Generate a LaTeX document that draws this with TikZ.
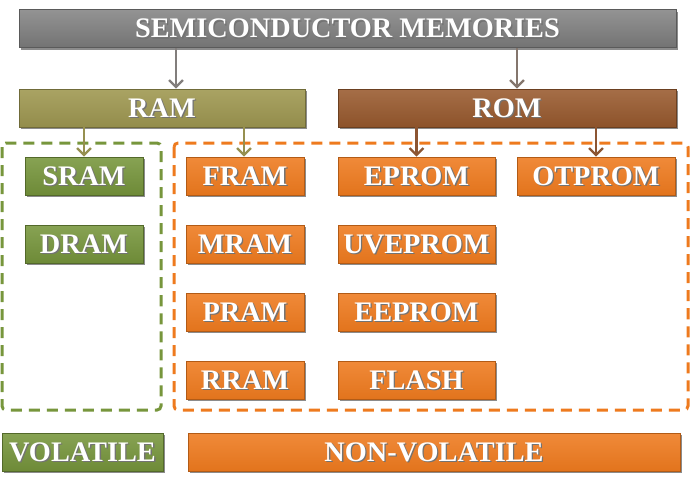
\documentclass[tikz,border=0pt]{standalone}
\usepackage{fontspec}
\setmainfont{Liberation Serif}
\usetikzlibrary{shadows,arrows.meta}
\definecolor{cgray}{RGB}{128,128,128}
\definecolor{colive}{RGB}{160,153,82}
\definecolor{cbrown}{RGB}{153,90,46}
\definecolor{cgreen}{RGB}{119,150,60}
\definecolor{corange}{RGB}{238,122,30}
\definecolor{agray}{RGB}{130,126,124}
\definecolor{aolive}{RGB}{150,144,80}
\definecolor{abrown}{RGB}{140,85,50}
\newcommand{\sht}[1]{\leavevmode\rlap{\kern1.3pt\raisebox{-1.3pt}{\color{black!55}#1}}#1}
\tikzset{
  box/.style={rectangle, inner sep=0pt, minimum height=38pt, text=white,
    font=\fontsize{28.3}{28}\selectfont\bfseries, text height=18.7pt, text depth=0pt,
    drop shadow={shadow xshift=1.5pt, shadow yshift=-2pt, opacity=0.45, fill=black}},
  graybox/.style={box, top color=cgray!85!white, bottom color=cgray!90!black, draw=cgray!70!black, line width=0.6pt},
  olivebox/.style={box, top color=colive!90!white, bottom color=colive!92!black, draw=colive!70!black, line width=0.6pt},
  brownbox/.style={box, top color=cbrown!88!white, bottom color=cbrown!92!black, draw=cbrown!70!black, line width=0.6pt},
  greenbox/.style={box, top color=cgreen!88!white, bottom color=cgreen!92!black, draw=cgreen!70!black, line width=0.6pt},
  orangebox/.style={box, top color=corange!88!white, bottom color=corange!95!black, draw=corange!75!black, line width=0.6pt},
  arr/.style={line width=2.3pt, -{Straight Barb[length=7pt,width=14pt]}},
  dashbox/.style={line width=3pt, dash pattern=on 11pt off 7pt, rounded corners=4pt}
}
\begin{document}
\begin{tikzpicture}[x=1pt,y=-1pt]
\useasboundingbox[fill=white] (0,0) rectangle (693,479);
% dashed groups
\draw[dashbox, draw=cgreen] (2,143) rectangle (161,410);
\draw[dashbox, draw=corange] (174,143) rectangle (688,410);
% top levels
\node[graybox, minimum width=657pt] (top) at (347.5,28.5) {\sht{SEMICONDUCTOR MEMORIES}};
\node[olivebox, minimum width=286pt] (ram) at (162,108) {\sht{RAM}};
\node[brownbox, minimum width=338pt] (rom) at (507,108) {\sht{ROM}};
% volatile
\node[greenbox, minimum width=118pt] (sram) at (84,176) {\sht{SRAM}};
\node[greenbox, minimum width=118pt] (dram) at (84,244) {\sht{DRAM}};
% non-volatile RAM
\node[orangebox, minimum width=118pt] (fram) at (245,176) {\sht{FRAM}};
\node[orangebox, minimum width=118pt] (mram) at (245,244) {\sht{MRAM}};
\node[orangebox, minimum width=118pt] (pram) at (245,312) {\sht{PRAM}};
\node[orangebox, minimum width=118pt] (rram) at (245,380) {\sht{RRAM}};
% ROM family
\node[orangebox, minimum width=157pt] (eprom) at (416.5,176) {\sht{EPROM}};
\node[orangebox, minimum width=157pt] (uveprom) at (416.5,244) {\sht{UVEPROM}};
\node[orangebox, minimum width=157pt] (eeprom) at (416.5,312) {\sht{EEPROM}};
\node[orangebox, minimum width=157pt] (flash) at (416.5,380) {\sht{FLASH}};
\node[orangebox, minimum width=158pt] (otprom) at (596,176) {\sht{OTPROM}};
% bottom labels
\node[greenbox, minimum width=161pt] (vol) at (82.5,452) {\sht{VOLATILE}};
\node[orangebox, minimum width=492pt] (nvol) at (434,452) {\sht{NON-VOLATILE}};
% arrows
\coordinate (aR) at (176,0);
\coordinate (aO) at (517,0);
\coordinate (aF) at (244,0);
\draw[arr, draw=agray] (top.south -| aR) -- (ram.north -| aR);
\draw[arr, draw=agray!80!abrown] (top.south -| aO) -- (rom.north -| aO);
\draw[arr, draw=aolive] (ram.south -| sram.north) -- (sram.north);
\draw[arr, draw=aolive] (ram.south -| aF) -- (fram.north -| aF);
\draw[arr, draw=abrown] (rom.south -| eprom.north) -- (eprom.north);
\draw[arr, draw=abrown] (rom.south -| otprom.north) -- (otprom.north);
\end{tikzpicture}
\end{document}
